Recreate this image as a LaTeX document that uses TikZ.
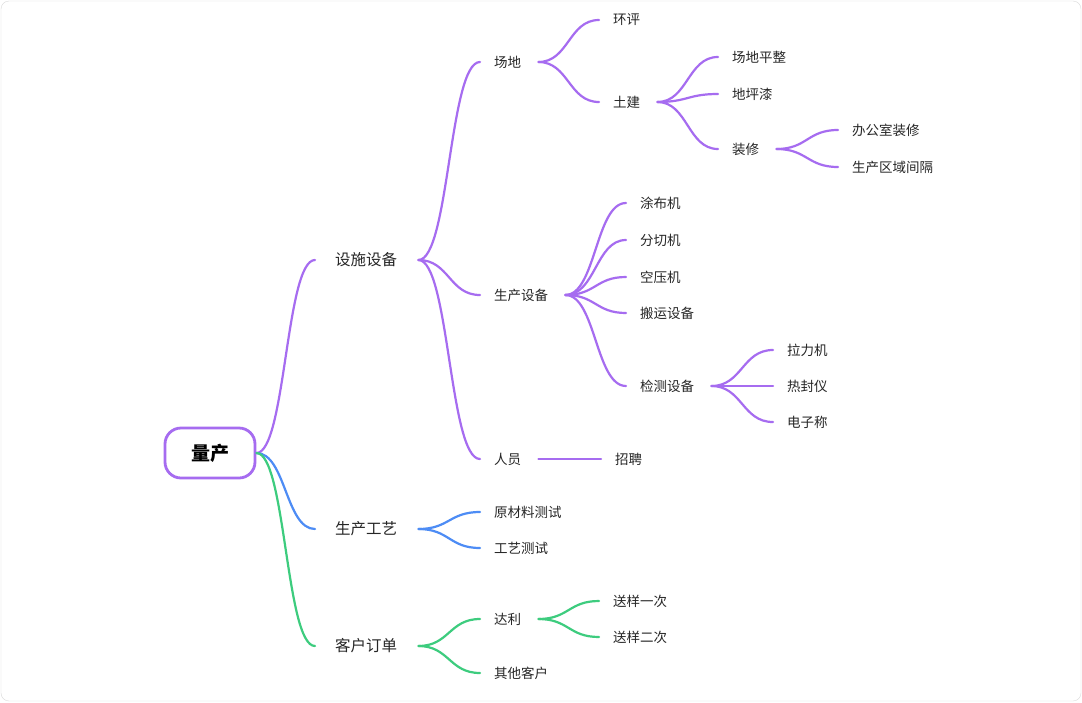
\documentclass[tikz,border=0pt]{standalone}
\usepackage{fontspec}
\newfontfamily\cjk{Noto Sans CJK SC}
\usetikzlibrary{calc}
\definecolor{purp}{HTML}{A66CF0}
\definecolor{blu}{HTML}{4D8CF5}
\definecolor{grn}{HTML}{3DCC7E}
\tikzset{lbl/.style={anchor=west,inner sep=0pt,font=\cjk\fontsize{13.5}{16}\selectfont,text=black!85},
 lbla/.style={anchor=west,inner sep=0pt,font=\cjk\fontsize{15.5}{18}\selectfont,text=black!85},
 br/.style={line width=2.2pt,line cap=round}}
\newcommand\nd[5][lbl]{\node[#1] (#2) at (#3,#4) {#5};
 \coordinate (#2-o) at ([xshift=17pt]#2.east);
 \coordinate (#2-i) at ([xshift=-14pt]#2.west);}
\newcommand\con[3]{\draw[br,#1] let \p1=(#2), \p2=(#3) in (\p1) .. controls ({(\x1+\x2)/2},\y1) and ({(\x1+\x2)/2},\y2) .. (\p2);}
\begin{document}
\begin{tikzpicture}[x=1pt,y=-1pt]
\useasboundingbox (0,0) rectangle (1082,702);
\draw[black!15,rounded corners=8pt,fill=white] (1,1) rectangle (1081,701);
\node[draw=purp,line width=2.8pt,rounded corners=16pt,minimum width=90pt,minimum height=50pt,font=\cjk\bfseries\fontsize{19}{22}\selectfont] (root) at (210,453) {量产};
\coordinate (root-o) at (root.east);
\nd[lbla]{a}{335}{260}{设施设备}
\nd[lbla]{b}{335}{529}{生产工艺}
\nd[lbla]{c}{335}{646}{客户订单}
\foreach \n in {a,b,c}{\coordinate (\n-i) at ([xshift=-20pt]\n.west);\coordinate (\n-o) at ([xshift=21pt]\n.east);}
\con{purp}{root-o}{a-i}\con{blu}{root-o}{b-i}\con{grn}{root-o}{c-i}
\nd{a1}{494}{62}{场地}\nd{a2}{494}{295}{生产设备}\nd{a3}{494}{459}{人员}
\con{purp}{a-o}{a1-i}\con{purp}{a-o}{a2-i}\con{purp}{a-o}{a3-i}
\nd{a11}{613}{20}{环评}\nd{a12}{613}{102}{土建}
\con{purp}{a1-o}{a11-i}\con{purp}{a1-o}{a12-i}
\nd{a121}{732}{57}{场地平整}\nd{a122}{732}{94}{地坪漆}\nd{a123}{732}{149}{装修}
\con{purp}{a12-o}{a121-i}\con{purp}{a12-o}{a122-i}\con{purp}{a12-o}{a123-i}
\nd{a1231}{852}{130}{办公室装修}\nd{a1232}{852}{167}{生产区域间隔}
\con{purp}{a123-o}{a1231-i}\con{purp}{a123-o}{a1232-i}
\nd{a21}{640}{203}{涂布机}\nd{a22}{640}{240}{分切机}\nd{a23}{640}{277}{空压机}\nd{a24}{640}{313}{搬运设备}\nd{a25}{640}{386}{检测设备}
\foreach \k in {1,...,5}{\con{purp}{a2-o}{a2\k-i}}
\nd{a251}{787}{350}{拉力机}\nd{a252}{787}{386}{热封仪}\nd{a253}{787}{422}{电子称}
\foreach \k in {1,2,3}{\con{purp}{a25-o}{a25\k-i}}
\nd{a31}{615}{459}{招聘}
\con{purp}{a3-o}{a31-i}
\nd{b1}{494}{512}{原材料测试}\nd{b2}{494}{548}{工艺测试}
\con{blu}{b-o}{b1-i}\con{blu}{b-o}{b2-i}
\nd{c1}{494}{619}{达利}\nd{c2}{494}{673}{其他客户}
\con{grn}{c-o}{c1-i}\con{grn}{c-o}{c2-i}
\nd{c11}{613}{601}{送样一次}\nd{c12}{613}{637}{送样二次}
\con{grn}{c1-o}{c11-i}\con{grn}{c1-o}{c12-i}
\end{tikzpicture}
\end{document}
